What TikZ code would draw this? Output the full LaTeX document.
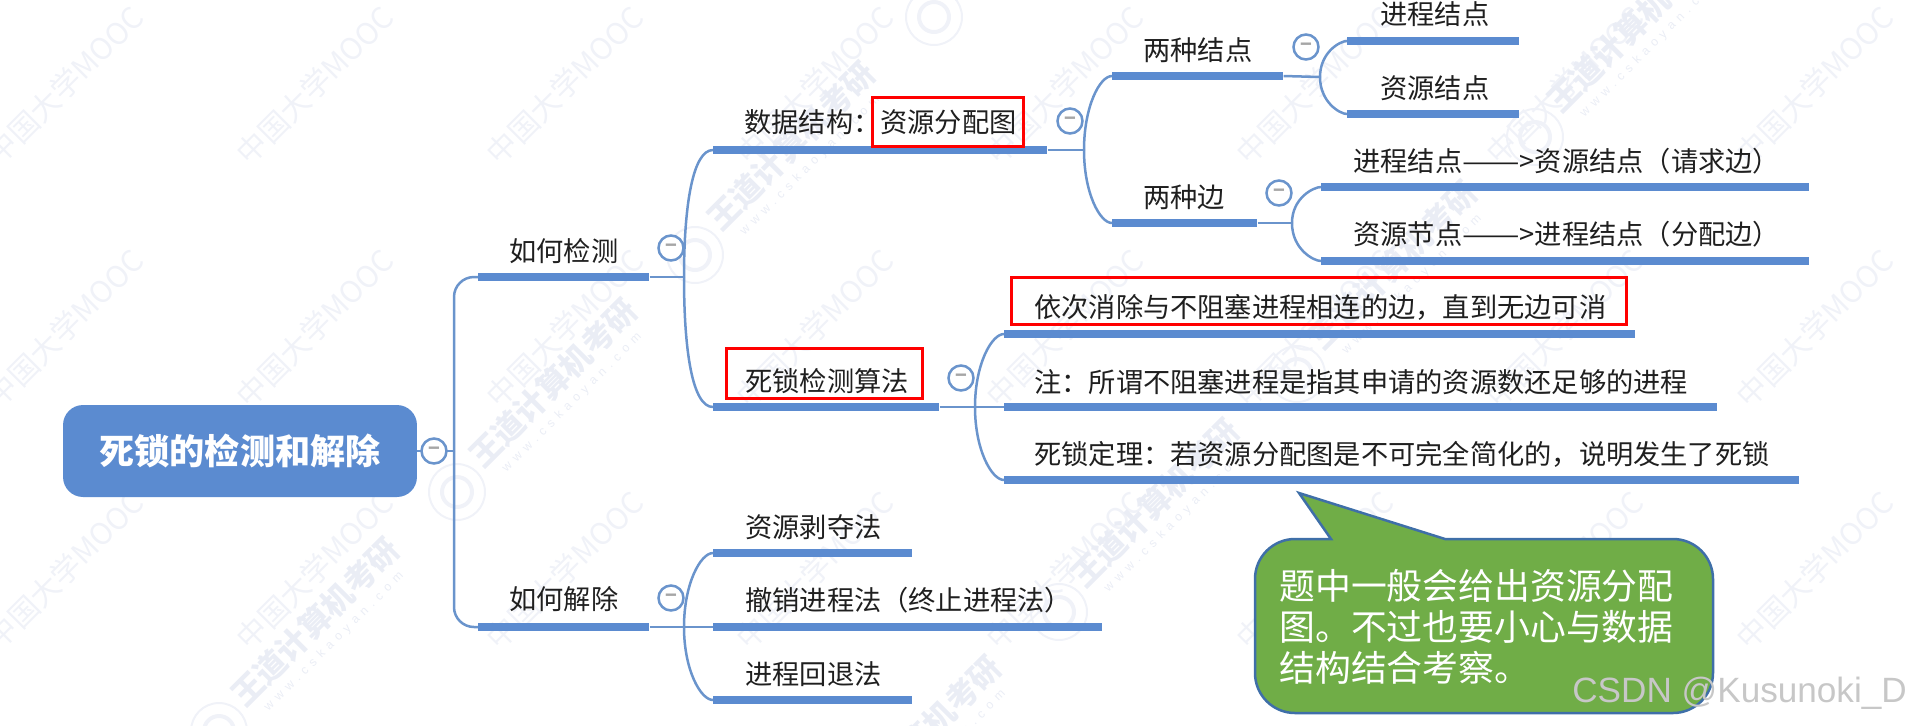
\documentclass[tikz,border=0pt]{standalone}
\usepackage{graphicx}
\usepackage{fontspec}
\setmainfont{Noto Sans CJK SC}
\newfontfamily\latinfont{Liberation Sans}
\newfontfamily\urlfont[LetterSpace=45]{Liberation Sans}
\usepackage{tikz,xcolor}
\definecolor{mapblue}{HTML}{5B8BD0}
\definecolor{linkblue}{HTML}{6A94CC}
\definecolor{notegreen}{HTML}{70AD47}
\definecolor{noteline}{HTML}{3F6FA8}
\definecolor{wmlight}{HTML}{F0F2F8}
\definecolor{wmdark}{HTML}{EAEDF5}
\tikzset{
  topic/.style={anchor=west,inner sep=0pt,text height=13.4pt,text depth=1.9pt,text=black!88,font=\fontsize{15.5}{18}\selectfont},
  bar/.style={anchor=west,inner sep=0pt,fill=mapblue,minimum height=0.16cm},
  link/.style={draw=linkblue,line width=0.05cm},
  curved/.style={out looseness=1.4,in looseness=0.4},
  fold/.style={circle,draw=linkblue,fill=white,line width=0.05cm,inner sep=0pt,minimum size=0.5cm,text=black!35,font=\bfseries\fontsize{11}{11}\selectfont},
  redbox/.style={draw=red,line width=0.06cm},
  wmtext/.style={rotate=45,inner sep=0pt,text=wmlight,font=\fontsize{17}{17}\selectfont},
  wmbold/.style={rotate=45,inner sep=0pt,text=wmdark,font=\bfseries\fontsize{18}{18}\selectfont},
  wmurl/.style={rotate=45,inner sep=0pt,text=wmdark,font=\urlfont\fontsize{7}{7}\selectfont},
  wmgroup/.pic={
    \node[wmbold] (t) at (0,0) {王道计算机考研};
    \node[wmurl] (u) at (19,20) {www.cskaoyan.com};
    \draw[wmlight,line width=0.04cm] (-96,109) circle[radius=0.56cm];
    \draw[wmlight,line width=0.08cm] (-96,109) circle[radius=0.3cm];
  }
}

\begin{document}
\begin{tikzpicture}[x=0.02cm,y=-0.02cm]
\useasboundingbox (0,0) rectangle (1911,725);

% faint marks behind the map
\node[wmtext] (wma1) at (65,85) {中国大学MOOC};
\node[wmtext] (wma2) at (315,85) {中国大学MOOC};
\node[wmtext] (wma3) at (565,85) {中国大学MOOC};
\node[wmtext] (wma4) at (815,85) {中国大学MOOC};
\node[wmtext] (wma5) at (1065,85) {中国大学MOOC};
\node[wmtext] (wma6) at (1315,85) {中国大学MOOC};
\node[wmtext] (wma7) at (1565,85) {中国大学MOOC};
\node[wmtext] (wma8) at (1815,85) {中国大学MOOC};
\node[wmtext] (wmb1) at (65,328) {中国大学MOOC};
\node[wmtext] (wmb2) at (315,328) {中国大学MOOC};
\node[wmtext] (wmb3) at (565,328) {中国大学MOOC};
\node[wmtext] (wmb4) at (815,328) {中国大学MOOC};
\node[wmtext] (wmb5) at (1065,328) {中国大学MOOC};
\node[wmtext] (wmb6) at (1315,328) {中国大学MOOC};
\node[wmtext] (wmb7) at (1565,328) {中国大学MOOC};
\node[wmtext] (wmb8) at (1815,328) {中国大学MOOC};
\node[wmtext] (wmc1) at (65,570) {中国大学MOOC};
\node[wmtext] (wmc2) at (315,570) {中国大学MOOC};
\node[wmtext] (wmc3) at (565,570) {中国大学MOOC};
\node[wmtext] (wmc4) at (815,570) {中国大学MOOC};
\node[wmtext] (wmc5) at (1065,570) {中国大学MOOC};
\node[wmtext] (wmc6) at (1315,570) {中国大学MOOC};
\node[wmtext] (wmc7) at (1565,570) {中国大学MOOC};
\node[wmtext] (wmc8) at (1815,570) {中国大学MOOC};
\pic (wg1) at (315,622) {wmgroup};
\pic (wg2) at (553,383) {wmgroup};
\pic (wg3) at (791,146) {wmgroup};
\pic (wg4) at (1030,-92) {wmgroup};
\pic (wg5) at (917,740) {wmgroup};
\pic (wg6) at (1155,503) {wmgroup};
\pic (wg7) at (1393,265) {wmgroup};
\pic (wg8) at (1631,28) {wmgroup};

% branch points
\coordinate (jroot) at (454,451);
\coordinate (jfind) at (684,277);
\coordinate (jfree) at (684,627);
\coordinate (jdata) at (1084,150);
\coordinate (jalgo) at (975,407);
\coordinate (jnode) at (1320,77);
\coordinate (jedge) at (1292,223);

% root
\node[rounded corners=0.4cm,fill=mapblue,minimum width=7.08cm,minimum height=1.84cm,text=white,font=\bfseries\fontsize{20}{22}\selectfont] (root) at (240,451) {死锁的检测和解除};

% bars under the texts
\node[bar,minimum width=3.42cm] (bfind) at (478,277) {};
\node[bar,minimum width=3.42cm] (bfree) at (478,627) {};
\node[bar,minimum width=6.68cm] (bdata) at (713,150) {};
\node[bar,minimum width=4.52cm] (balgo) at (713,407) {};
\node[bar,minimum width=3.98cm] (bsteal) at (713,553) {};
\node[bar,minimum width=7.78cm] (bkill) at (713,627) {};
\node[bar,minimum width=3.98cm] (bback) at (713,700) {};
\node[bar,minimum width=3.42cm] (bnode) at (1112,76) {};
\node[bar,minimum width=2.90cm] (bedge) at (1112,223) {};
\node[bar,minimum width=3.44cm] (bnodea) at (1347,41) {};
\node[bar,minimum width=3.44cm] (bnodeb) at (1347,114) {};
\node[bar,minimum width=9.76cm] (bedgea) at (1321,187) {};
\node[bar,minimum width=9.76cm] (bedgeb) at (1321,261) {};
\node[bar,minimum width=12.62cm] (balgoa) at (1004,334) {};
\node[bar,minimum width=14.26cm] (balgob) at (1004,407) {};
\node[bar,minimum width=15.90cm] (balgoc) at (1004,480) {};

% connectors
\draw[link] (root.east) -- (jroot);
\draw[link,rounded corners=0.4cm] (jroot) |- (bfind.west);
\draw[link,rounded corners=0.4cm] (jroot) |- (bfree.west);
\draw[link] (bfind.east) -- (jfind);
\draw[link] (bfree.east) -- (jfree);
\draw[link] (jfind) to[out=90,in=180,curved] (bdata.west);
\draw[link] (jfind) to[out=-90,in=180,curved] (balgo.west);
\draw[link] (jfree) to[out=90,in=180,curved] (bsteal.west);
\draw[link] (jfree) to[out=-90,in=180,curved] (bback.west);
\draw[link] (jfree) -- (bkill.west);
\draw[link] (bdata.east) -- (jdata);
\draw[link] (jdata) to[out=90,in=180,curved] (bnode.west);
\draw[link] (jdata) to[out=-90,in=180,curved] (bedge.west);
\draw[link] (bnode.east) -- (jnode);
\draw[link] (jnode) to[out=90,in=180,curved] (bnodea.west);
\draw[link] (jnode) to[out=-90,in=180,curved] (bnodeb.west);
\draw[link] (bedge.east) -- (jedge);
\draw[link] (jedge) to[out=90,in=180,curved] (bedgea.west);
\draw[link] (jedge) to[out=-90,in=180,curved] (bedgeb.west);
\draw[link] (balgo.east) -- (balgob.west);
\draw[link] (jalgo) to[out=90,in=180,curved] (balgoa.west);
\draw[link] (jalgo) to[out=-90,in=180,curved] (balgoc.west);

% fold marks
\node[fold] (froot) at (434,451) {−};
\node[fold] (ffind) at (671,248) {−};
\node[fold] (ffree) at (671,598) {−};
\node[fold] (fdata) at (1070,121) {−};
\node[fold] (falgo) at (961,378) {−};
\node[fold] (fnode) at (1306,47) {−};
\node[fold] (fedge) at (1279,193) {−};

% texts
\node[topic] (tfind) at (509,251) {如何检测};
\node[topic] (tfree) at (509,599) {如何解除};
\node[topic] (tdata) at (744,122) {数据结构：资源分配图};
\node[topic] (talgo) at (745,381) {死锁检测算法};
\node[topic] (tsteal) at (745,527) {资源剥夺法};
\node[topic] (tkill) at (745,600) {撤销进程法（终止进程法）};
\node[topic] (tback) at (745,674) {进程回退法};
\node[topic] (tnode) at (1143,50) {两种结点};
\node[topic] (tedge) at (1143,197) {两种边};
\node[topic] (tnodea) at (1380,14) {进程结点};
\node[topic] (tnodeb) at (1380,88) {资源结点};
\node[topic] (tedgea) at (1353,161) {进程结点\scalebox{1.26}[1]{——}>资源结点（请求边）};
\node[topic] (tedgeb) at (1353,234) {资源节点\scalebox{1.26}[1]{——}>进程结点（分配边）};
\node[topic] (talgoa) at (1034,307) {依次消除与不阻塞进程相连的边，直到无边可消};
\node[topic] (talgob) at (1034,382) {注：所谓不阻塞进程是指其申请的资源数还足够的进程};
\node[topic] (talgoc) at (1034,454) {死锁定理：若资源分配图是不可完全简化的，说明发生了死锁};

% red frames
\draw[redbox] (872,97) rectangle (1023,146);
\draw[redbox] (726,348) rectangle (922,398);
\draw[redbox] (1011,277) rectangle (1626,324);

% callout
\draw[fill=notegreen,draw=noteline,line width=0.05cm] (1331,539) -- (1299,493) -- (1445,539) [rounded corners=0.8cm] -- (1713,539) -- (1713,713) -- (1255,713) -- (1255,539) [sharp corners] -- (1331,539) -- cycle;
\node[anchor=north west,inner sep=0pt,align=left,text=white,font=\fontsize{20.4}{23.3}\selectfont] (tnote) at (1279,569) {题中一般会给出资源分配\\图。不过也要小心与数据\\结构结合考察。};

\node[anchor=west,inner sep=0pt,text=black!22,font=\latinfont\fontsize{20}{20}\selectfont] (tcsdn) at (1572,693) {CSDN @Kusunoki\_D};
\end{tikzpicture}
\end{document}
